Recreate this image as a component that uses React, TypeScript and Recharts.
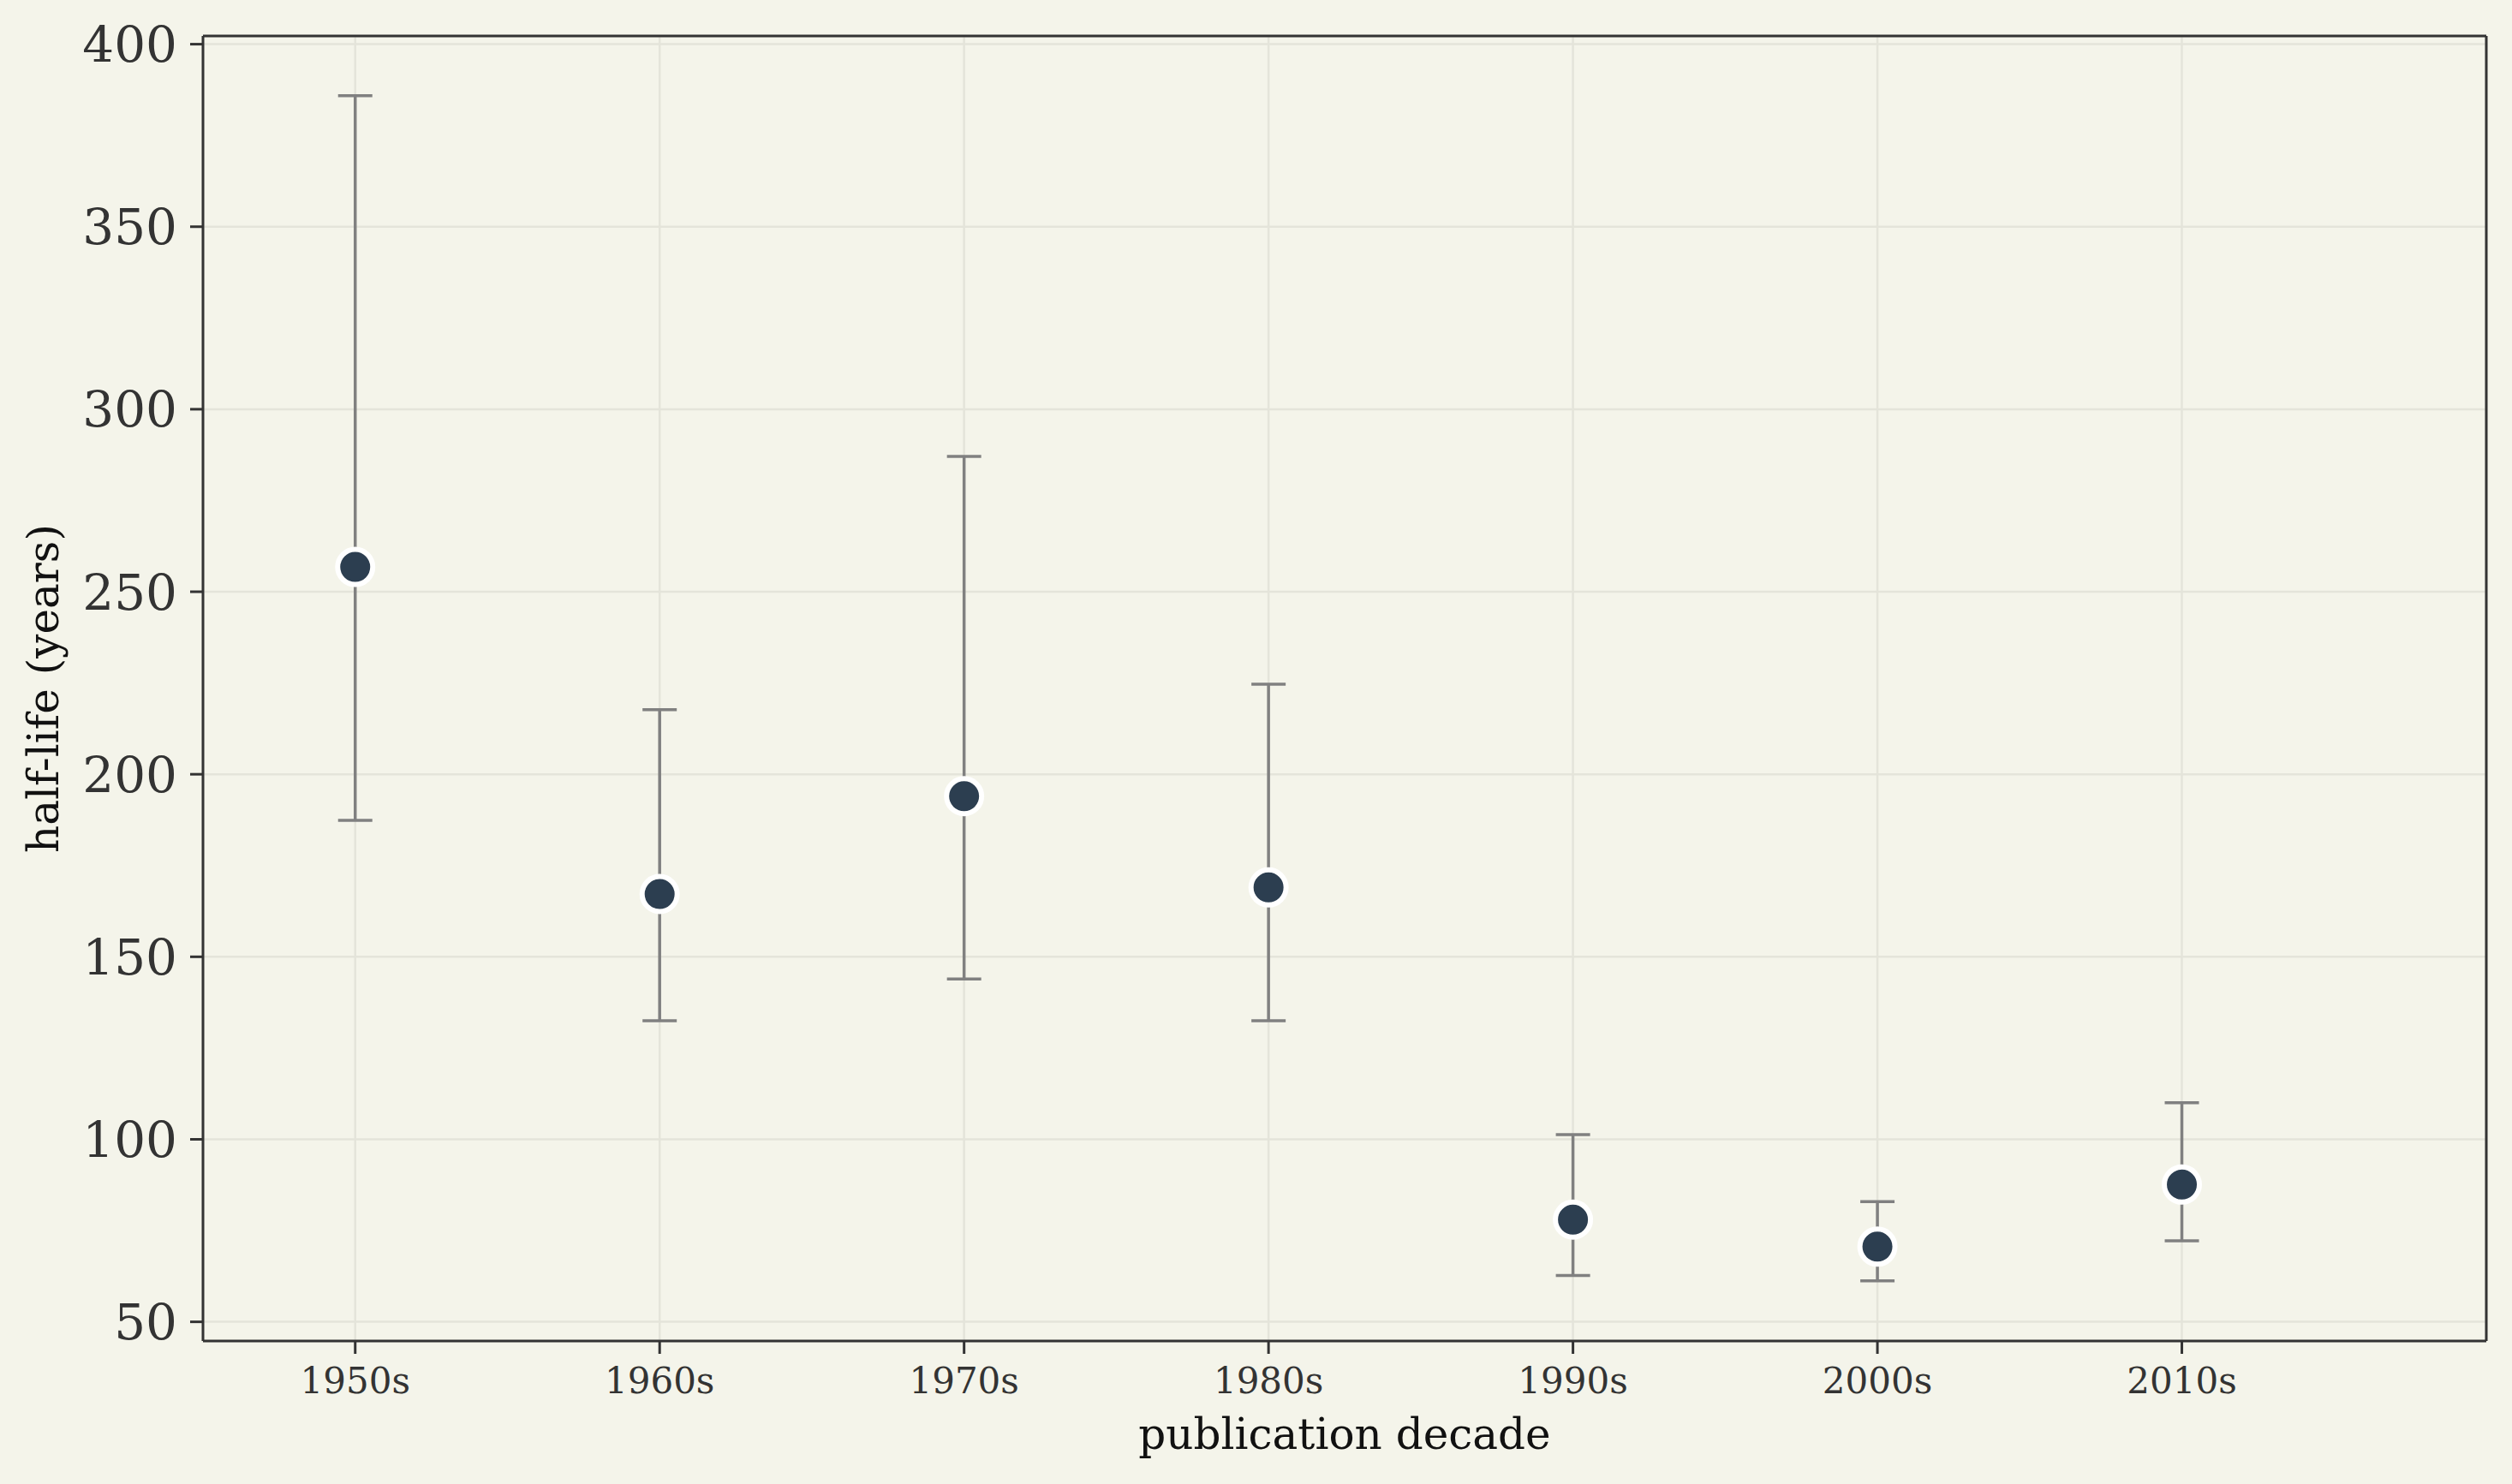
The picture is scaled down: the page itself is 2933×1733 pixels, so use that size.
import { ScatterChart, Scatter, XAxis, YAxis, CartesianGrid, ErrorBar, ReferenceLine } from "recharts";

const decades = ["1950s", "1960s", "1970s", "1980s", "1990s", "2000s", "2010s"];
const halfLife = [256.8, 167.2, 194.0, 169.0, 78.0, 70.6, 87.6];
const upper = [385.9, 217.7, 287.1, 224.7, 101.3, 82.9, 110.0];
const lower = [187.4, 132.5, 143.9, 132.5, 62.7, 61.2, 72.2];
const yTicks = [50, 100, 150, 200, 250, 300, 350, 400];

const xDomain = [-0.5, 7];
const yDomain = [44.75, 402.25];

const data = decades.map((d, i) => ({
  idx: i,
  decade: d,
  halfLife: halfLife[i],
  err: [halfLife[i] - lower[i], upper[i] - halfLife[i]],
}));
const xTicks = decades.map((_, i) => i);

const BG = "#f4f4ea";
const SPINE = "#333333";
const FONT = "DejaVu Serif";

const Dot = (props: any) => (
  <circle cx={props.cx} cy={props.cy} r={20.5} fill="#2c3e50" stroke="#ffffff" strokeWidth={6} />
);

export default function App() {
  return (
    <div style={{ position: "absolute", left: 0, top: 0, width: 2933, height: 1733, background: BG }}>
      <ScatterChart width={2933} height={1733} margin={{ top: 42, right: 30, left: 0, bottom: 0 }}>
        <CartesianGrid stroke="#e4e4da" strokeWidth={2.5} />
        <XAxis
          dataKey="idx"
          type="number"
          domain={xDomain}
          ticks={xTicks}
          tickFormatter={(v: number) => decades[v] ?? ""}
          height={167}
          tickSize={15}
          tickMargin={16}
          axisLine={{ stroke: SPINE, strokeWidth: 3 }}
          tickLine={{ stroke: SPINE, strokeWidth: 3 }}
          tick={{ fill: SPINE, fontSize: 42, fontFamily: FONT }}
          label={{
            value: "publication decade",
            position: "insideBottom",
            offset: 41,
            style: { fill: "#111111", fontSize: 50, fontFamily: FONT },
          }}
        />
        <YAxis
          dataKey="halfLife"
          type="number"
          domain={yDomain}
          ticks={yTicks}
          width={237}
          tickSize={15}
          tickMargin={15}
          axisLine={{ stroke: SPINE, strokeWidth: 3 }}
          tickLine={{ stroke: SPINE, strokeWidth: 3 }}
          tick={{ fill: SPINE, fontSize: 58, fontFamily: FONT }}
          label={{
            value: "half-life (years)",
            angle: -90,
            position: "insideLeft",
            offset: 50,
            style: { fill: "#111111", fontSize: 50, fontFamily: FONT, textAnchor: "middle" },
          }}
        />
        <ReferenceLine y={yDomain[1]} stroke={SPINE} strokeWidth={3} />
        <ReferenceLine x={xDomain[1]} stroke={SPINE} strokeWidth={3} />
        <Scatter data={data} shape={<Dot />} isAnimationActive={false}>
          <ErrorBar
            dataKey="err"
            direction="y"
            width={20}
            stroke="#808080"
            strokeWidth={3.5}
            isAnimationActive={false}
          />
        </Scatter>
      </ScatterChart>
    </div>
  );
}
